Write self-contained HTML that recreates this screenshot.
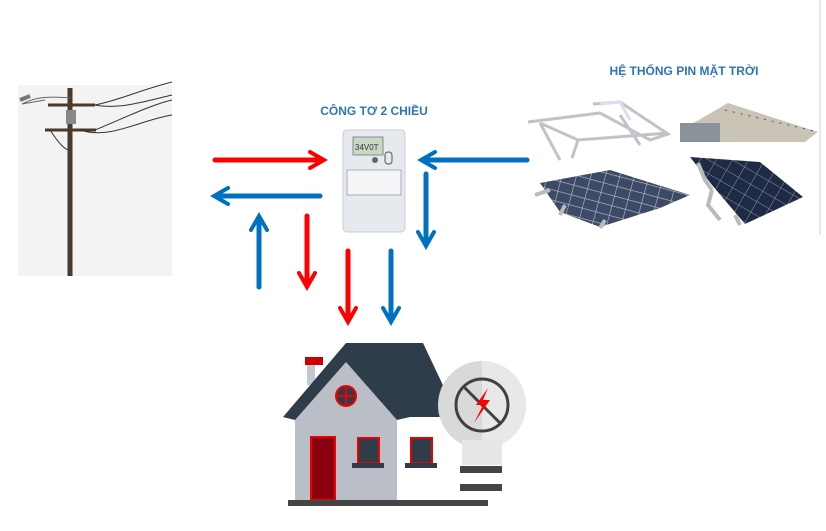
<!DOCTYPE html><html><head><style>body{margin:0;background:#fff}svg{display:block}</style></head><body>
<svg width="826" height="531" viewBox="0 0 826 531" xmlns="http://www.w3.org/2000/svg" font-family="Liberation Sans, sans-serif">
<defs>
<marker id="r" viewBox="0 0 10 10" refX="7" refY="5" markerWidth="4" markerHeight="4" orient="auto"><path d="M1 1L8 5L1 9" fill="none" stroke="#f00" stroke-width="2" stroke-linecap="round"/></marker>
<marker id="b" viewBox="0 0 10 10" refX="7" refY="5" markerWidth="4" markerHeight="4" orient="auto"><path d="M1 1L8 5L1 9" fill="none" stroke="#0070c0" stroke-width="2" stroke-linecap="round"/></marker>
<pattern id="g1" width="14" height="10" patternUnits="userSpaceOnUse" patternTransform="rotate(15)"><rect width="14" height="10" fill="#3c4a66"/><path d="M0 0H14M0 0V10" stroke="#b8c0cc" stroke-width="1.2"/></pattern>
<pattern id="g2" width="14" height="12" patternUnits="userSpaceOnUse" patternTransform="rotate(30)"><rect width="14" height="12" fill="#1f2a45"/><path d="M0 0H14M0 0V12" stroke="#8a94a8" stroke-width="1"/></pattern>
</defs>
<line x1="820" y1="0" x2="820" y2="235" stroke="#d0d0d0"/>
<!-- pole -->
<rect x="18" y="85" width="154" height="191" fill="#f3f3f3"/>
<line x1="70" y1="88" x2="70" y2="276" stroke="#4a3a2a" stroke-width="5"/>
<line x1="48" y1="105" x2="95" y2="105" stroke="#4a3a2a" stroke-width="3"/>
<line x1="45" y1="130" x2="96" y2="130" stroke="#4a3a2a" stroke-width="3"/>
<rect x="66" y="110" width="10" height="14" fill="#888"/>
<path d="M22 104L45 100M70 98C40 95 30 100 22 104" stroke="#666" fill="none"/>
<path d="M20 100L30 96" stroke="#777" stroke-width="4"/>
<path d="M95 105C120 100 140 90 172 82M95 130C120 120 150 105 172 100M80 130C110 140 140 120 172 115M95 105C120 110 150 100 172 95M50 130C60 145 65 150 70 150" stroke="#333" fill="none"/>
<!-- meter -->
<rect x="343" y="130" width="62" height="102" rx="4" fill="#e6e9ee" stroke="#c8ccd2"/>
<rect x="353" y="137" width="30" height="18" fill="#c9d8c0" stroke="#889"/>
<text x="355" y="150" font-size="8" fill="#333">34V0T</text>
<rect x="347" y="170" width="54" height="25" fill="#f4f5f7" stroke="#aab"/>
<circle cx="375" cy="160" r="3" fill="#666"/>
<rect x="385" y="152" width="7" height="12" rx="3" fill="none" stroke="#555"/>
<text x="374" y="115" font-size="12" font-weight="bold" fill="#2e75b6" text-anchor="middle">CÔNG TƠ 2 CHIỀU</text>
<text x="684" y="75" font-size="12" font-weight="bold" fill="#2e75b6" text-anchor="middle">HỆ THỐNG PIN MẶT TRỜI</text>
<!-- solar -->
<g fill="none" stroke="#c0c4c8" stroke-width="3">
<path d="M528 122L600 113M540 123L578 140L668 133M593 104L620 102L668 134L650 140L600 113M540 123L560 160M578 140L572 158M620 115L640 145"/>
<path d="M600 104L620 102L630 120" stroke="#dde"/>
</g>
<path d="M680 142L690 125L728 103L818 132L805 142Z" fill="#c9c4b6"/>
<path d="M680 123L720 123L720 142L680 142Z" fill="#8a929c"/>
<path d="M725 110L818 132" stroke="#555" stroke-dasharray="2 6"/>
<path d="M540 183L610 170L690 195L660 208L600 227L560 212Z" fill="url(#g1)"/>
<path d="M535 195L550 190M560 215L565 205M600 228L605 220" stroke="#bbb" stroke-width="4"/>
<path d="M690 157L760 162L803 197L745 224L712 185Z" fill="url(#g2)"/>
<path d="M698 163L705 180L712 190M712 190L708 205L720 220M735 215L740 225" stroke="#bbb" stroke-width="4" fill="none"/>
<!-- arrows -->
<g fill="none" stroke-width="5" stroke-linecap="round">
<line x1="215" y1="160" x2="322" y2="160" stroke="#f00" marker-end="url(#r)"/>
<line x1="320" y1="196" x2="216" y2="196" stroke="#0070c0" marker-end="url(#b)"/>
<line x1="259" y1="287" x2="259" y2="218" stroke="#0070c0" marker-end="url(#b)"/>
<line x1="307" y1="216" x2="307" y2="285" stroke="#f00" marker-end="url(#r)"/>
<line x1="348" y1="251" x2="348" y2="320" stroke="#f00" marker-end="url(#r)"/>
<line x1="391" y1="251" x2="391" y2="320" stroke="#0070c0" marker-end="url(#b)"/>
<line x1="527" y1="160" x2="423" y2="160" stroke="#0070c0" marker-end="url(#b)"/>
<line x1="426" y1="174" x2="426" y2="244" stroke="#0070c0" marker-end="url(#b)"/>
</g>
<!-- house -->
<rect x="305" y="357" width="18" height="8" fill="#c00"/>
<rect x="307" y="365" width="8" height="20" fill="#c4c8d0"/>
<path d="M346 343L423 343L458 417L390 417Z" fill="#2f3d4a"/>
<rect x="390" y="417" width="70" height="85" fill="#fff"/>
<path d="M295 417L346 360L397 417L397 502L295 502Z" fill="#b9bec7"/>
<path d="M283 417L346 343L410 417L397 420L346 362L295 420Z" fill="#2f3d4a"/>
<circle cx="346" cy="396" r="10" fill="#2f3d4a" stroke="#e00" stroke-width="2"/>
<path d="M336 396H356M346 386V406" stroke="#e00" stroke-width="2"/>
<rect x="311" y="437" width="24" height="63" fill="#8b0010" stroke="#e00" stroke-width="2"/>
<rect x="358" y="438" width="21" height="25" fill="#2f3d4a" stroke="#e00" stroke-width="2"/>
<rect x="352" y="463" width="32" height="5" fill="#2f3d4a"/>
<rect x="411" y="438" width="21" height="25" fill="#2f3d4a" stroke="#e00" stroke-width="2"/>
<rect x="405" y="463" width="32" height="5" fill="#2f3d4a"/>
<circle cx="482" cy="405" r="44" fill="#d9d9d9"/>
<path d="M482 361A44 44 0 0 1 482 449Z" fill="#e8e8e8"/>
<rect x="462" y="440" width="40" height="25" fill="#e6e6e6"/>
<circle cx="482" cy="405" r="26" fill="none" stroke="#404040" stroke-width="3"/>
<line x1="464" y1="387" x2="500" y2="423" stroke="#404040" stroke-width="3"/>
<path d="M488 388L476 405L483 405L474 423L490 400L483 400Z" fill="#f00"/>
<rect x="460" y="466" width="42" height="7" fill="#444"/>
<rect x="460" y="484" width="42" height="7" fill="#444"/>
<rect x="288" y="500" width="200" height="6" fill="#444"/>
</svg>
</body></html>
